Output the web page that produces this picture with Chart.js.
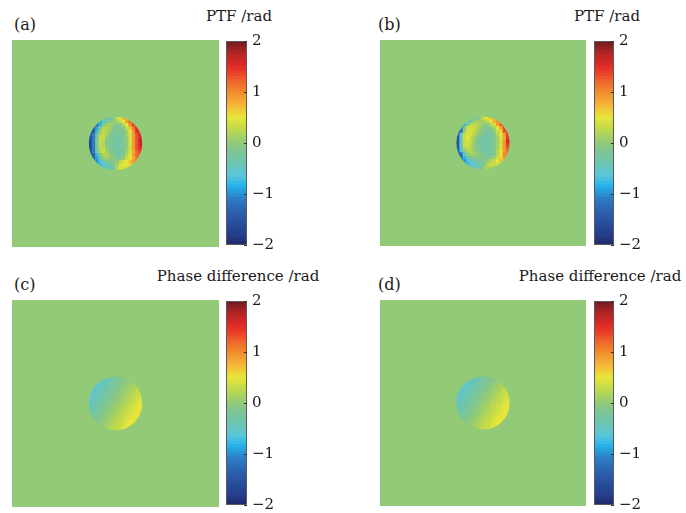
<!DOCTYPE html>
<html><head><meta charset="utf-8">
<script src="https://cdn.jsdelivr.net/npm/chart.js@4.4.1/dist/chart.umd.min.js"></script>
<style>
html,body{margin:0;padding:0;background:#fff}
body{width:686px;height:513px;position:relative;overflow:hidden;font-family:'DejaVu Serif',serif;color:#1a1a1a}
canvas{position:absolute;display:block}
.t{position:absolute;font-size:15px;line-height:15px;white-space:nowrap;transform:translateX(-50%)}
.p{position:absolute;font-size:16px;line-height:16px;white-space:nowrap}
</style></head><body>
<script>
// ---------- data ----------
const FIELD_SIZE = 62;      // grid cells across each square field
const DISC_ORIGIN = 23;     // first grid cell of the 16x16 disc window
const DISC_RADIUS = 8;      // aperture radius, grid cells (centred in the window)
const FIELD_BASE = 0;       // value of the field outside the aperture (rad)
const colorbarRange = [-2, 2];
const colorbarTicks = [-2, -1, 0, 1, 2];
const panelLabels = ['(a)', '(b)', '(c)', '(d)'];
const colorbarTitles = ['PTF /rad', 'PTF /rad', 'Phase difference /rad', 'Phase difference /rad'];

const ptfA = [
 [-0.5,-0.5,-0.5,-0.5,-0.5,-0.5,-0.4,-0.2,0.3,0.5,0.8,0.8,0.8,0.8,0.8,0.8],
 [-0.9,-0.9,-0.9,-0.9,-0.6,-0.3,-0.1,0,0.1,0.3,0.5,0.9,1.2,1.2,1.2,1.2],
 [-1.2,-1.2,-1.2,-0.8,-0.2,0.1,0.1,0,-0.1,-0.1,0.2,0.5,1.0,1.4,1.4,1.4],
 [-1.4,-1.4,-0.9,-0.1,0.2,0.2,0.1,-0.1,-0.2,-0.2,-0.1,0.3,0.7,1.1,1.5,1.5],
 [-1.5,-1.5,-0.8,0.1,0.3,0.2,0,-0.2,-0.2,-0.2,-0.2,0.1,0.5,1.0,1.5,1.5],
 [-1.6,-1.1,-0.4,0.2,0.3,0.1,-0.1,-0.2,-0.3,-0.2,-0.2,0.1,0.4,0.9,1.3,1.6],
 [-1.6,-1.1,-0.3,0.3,0.3,0,-0.2,-0.2,-0.3,-0.3,-0.2,0,0.4,0.9,1.3,1.6],
 [-1.7,-1.1,-0.3,0.3,0.2,-0.1,-0.2,-0.3,-0.3,-0.3,-0.2,0,0.4,0.9,1.3,1.7],
 [-1.7,-1.1,-0.3,0.3,0.2,-0.1,-0.2,-0.3,-0.3,-0.3,-0.2,0,0.4,0.9,1.3,1.6],
 [-1.6,-1.1,-0.3,0.2,0.3,0,-0.2,-0.2,-0.3,-0.3,-0.2,0,0.4,0.9,1.3,1.5],
 [-1.5,-1.1,-0.4,0.2,0.3,0.1,-0.1,-0.2,-0.3,-0.3,-0.2,0.1,0.4,0.8,1.2,1.4],
 [-1.4,-1.4,-0.8,-0.1,0.2,0.2,0,-0.1,-0.3,-0.3,-0.2,0.2,0.5,0.9,1.2,1.2],
 [-1.3,-1.3,-0.9,-0.3,0,0.1,0,-0.1,-0.2,-0.2,0,0.3,0.5,0.8,1.1,1.1],
 [-1.0,-1.0,-1.0,-0.7,-0.4,-0.2,-0.1,-0.1,0,0.2,0.4,0.5,0.7,0.9,0.9,0.9],
 [-0.8,-0.8,-0.8,-0.8,-0.6,-0.4,-0.3,-0.2,0.1,0.4,0.5,0.5,0.6,0.6,0.6,0.6],
 [-0.5,-0.5,-0.5,-0.5,-0.5,-0.5,-0.4,-0.3,0.2,0.4,0.4,0.4,0.4,0.4,0.4,0.4]
];
const ptfB = [
 [-0.4,-0.4,-0.4,-0.4,-0.4,-0.4,-0.2,0.1,0.4,0.5,0.7,0.7,0.7,0.7,0.7,0.7],
 [-0.6,-0.6,-0.6,-0.6,-0.3,0,0.1,0.1,0.2,0.3,0.5,0.8,1.0,1.0,1.0,1.0],
 [-0.8,-0.8,-0.8,-0.2,0.2,0.3,0.2,0.1,0,0,0.2,0.4,0.9,1.2,1.2,1.2],
 [-1.0,-1.0,-0.2,0.3,0.4,0.3,0.2,0,-0.1,-0.2,-0.1,0.2,0.5,0.9,1.3,1.3],
 [-1.2,-1.2,0,0.4,0.4,0.3,0.1,0,-0.2,-0.2,-0.2,0,0.3,0.6,1.3,1.3],
 [-1.4,-0.6,0.3,0.4,0.4,0.2,0,-0.1,-0.2,-0.3,-0.3,-0.1,0.2,0.5,0.9,1.4],
 [-1.5,-0.5,0.3,0.5,0.3,0.1,-0.1,-0.2,-0.3,-0.3,-0.3,-0.1,0.1,0.4,0.8,1.4],
 [-1.5,-0.5,0.3,0.4,0.3,0,-0.2,-0.3,-0.3,-0.3,-0.3,-0.1,0.1,0.4,0.9,1.5],
 [-1.5,-0.5,0.3,0.4,0.2,0,-0.2,-0.3,-0.3,-0.3,-0.3,-0.1,0.1,0.4,0.9,1.4],
 [-1.5,-0.6,0.2,0.3,0.2,0,-0.1,-0.3,-0.3,-0.3,-0.3,-0.1,0.1,0.4,0.9,1.3],
 [-1.4,-0.7,0,0.2,0.2,0,-0.1,-0.2,-0.3,-0.3,-0.3,-0.1,0.2,0.5,0.9,1.2],
 [-1.3,-1.3,-0.6,0,0.1,0.1,0,-0.1,-0.2,-0.3,-0.3,-0.1,0.2,0.5,1.0,1.0],
 [-1.2,-1.2,-0.8,-0.4,-0.2,-0.1,-0.1,-0.1,-0.2,-0.2,-0.1,0.1,0.3,0.6,0.9,0.9],
 [-1.0,-1.0,-1.0,-0.7,-0.5,-0.4,-0.3,-0.2,-0.1,0,0.2,0.3,0.5,0.7,0.7,0.7],
 [-0.8,-0.8,-0.8,-0.8,-0.6,-0.5,-0.4,-0.3,-0.1,0.2,0.3,0.3,0.4,0.4,0.4,0.4],
 [-0.5,-0.5,-0.5,-0.5,-0.5,-0.5,-0.4,-0.3,0.1,0.2,0.2,0.2,0.2,0.2,0.2,0.2]
];
const phaseDiffC = [
 [-0.5,-0.5,-0.5,-0.5,-0.5,-0.45,-0.35,-0.3,-0.25,-0.2,-0.1,-0.05,-0.05,-0.05,-0.05,-0.05],
 [-0.5,-0.5,-0.5,-0.5,-0.45,-0.4,-0.35,-0.25,-0.2,-0.15,-0.1,-0.02,0.05,0.1,0.1,0.1],
 [-0.55,-0.55,-0.55,-0.5,-0.45,-0.35,-0.3,-0.25,-0.2,-0.1,-0.05,0.02,0.05,0.15,0.2,0.2],
 [-0.6,-0.6,-0.5,-0.45,-0.4,-0.35,-0.25,-0.2,-0.15,-0.1,-0.02,0.05,0.1,0.15,0.25,0.3],
 [-0.55,-0.55,-0.45,-0.4,-0.35,-0.3,-0.2,-0.15,-0.1,-0.05,0.05,0.1,0.15,0.2,0.3,0.35],
 [-0.55,-0.5,-0.45,-0.35,-0.3,-0.25,-0.2,-0.1,-0.05,0.02,0.05,0.15,0.2,0.25,0.3,0.4],
 [-0.55,-0.45,-0.4,-0.35,-0.3,-0.2,-0.15,-0.1,-0.05,0.05,0.1,0.15,0.2,0.3,0.35,0.4],
 [-0.5,-0.45,-0.35,-0.3,-0.25,-0.2,-0.1,-0.05,0.02,0.05,0.15,0.2,0.25,0.3,0.4,0.45],
 [-0.45,-0.4,-0.3,-0.25,-0.2,-0.15,-0.05,0.02,0.05,0.1,0.2,0.25,0.3,0.35,0.45,0.5],
 [-0.4,-0.35,-0.3,-0.2,-0.15,-0.1,-0.05,0.05,0.1,0.15,0.2,0.3,0.35,0.4,0.45,0.5],
 [-0.4,-0.3,-0.25,-0.2,-0.15,-0.05,0.02,0.05,0.1,0.2,0.25,0.3,0.35,0.45,0.5,0.5],
 [-0.3,-0.3,-0.2,-0.15,-0.1,-0.05,0.05,0.1,0.15,0.2,0.3,0.35,0.4,0.45,0.5,0.55],
 [-0.25,-0.25,-0.15,-0.1,-0.05,0.02,0.1,0.15,0.2,0.25,0.35,0.4,0.45,0.5,0.5,0.55],
 [-0.2,-0.2,-0.15,-0.05,0.02,0.05,0.1,0.2,0.25,0.3,0.35,0.45,0.5,0.5,0.55,0.55],
 [-0.1,-0.1,-0.1,-0.05,0.02,0.1,0.15,0.2,0.25,0.3,0.4,0.45,0.5,0.55,0.55,0.55],
 [0.05,0.05,0.05,0.05,0.05,0.1,0.2,0.25,0.3,0.35,0.45,0.5,0.5,0.5,0.5,0.5]
];
const phaseDiffD = [
 [-0.5,-0.5,-0.5,-0.5,-0.5,-0.45,-0.4,-0.3,-0.25,-0.2,-0.15,-0.05,-0.05,-0.05,-0.05,-0.05],
 [-0.5,-0.5,-0.5,-0.5,-0.45,-0.4,-0.35,-0.3,-0.2,-0.15,-0.1,-0.05,0.05,0.1,0.1,0.1],
 [-0.55,-0.55,-0.55,-0.5,-0.45,-0.4,-0.3,-0.25,-0.2,-0.15,-0.05,0.02,0.05,0.15,0.2,0.2],
 [-0.6,-0.6,-0.55,-0.45,-0.4,-0.35,-0.3,-0.2,-0.15,-0.1,-0.02,0.05,0.1,0.15,0.25,0.3],
 [-0.55,-0.55,-0.5,-0.4,-0.35,-0.3,-0.25,-0.15,-0.1,-0.05,0.02,0.1,0.15,0.2,0.3,0.35],
 [-0.55,-0.5,-0.45,-0.4,-0.3,-0.25,-0.2,-0.1,-0.05,0.02,0.05,0.1,0.2,0.25,0.3,0.4],
 [-0.55,-0.5,-0.4,-0.35,-0.3,-0.2,-0.15,-0.1,-0.05,0.02,0.1,0.15,0.2,0.3,0.35,0.4],
 [-0.5,-0.45,-0.4,-0.3,-0.25,-0.2,-0.1,-0.05,0.02,0.05,0.15,0.2,0.25,0.3,0.4,0.45],
 [-0.45,-0.4,-0.35,-0.25,-0.2,-0.15,-0.05,0.02,0.05,0.1,0.2,0.25,0.3,0.35,0.45,0.5],
 [-0.45,-0.35,-0.3,-0.2,-0.15,-0.1,-0.05,0.05,0.1,0.15,0.2,0.3,0.35,0.4,0.45,0.5],
 [-0.4,-0.35,-0.25,-0.2,-0.15,-0.05,0.02,0.05,0.1,0.2,0.25,0.3,0.35,0.45,0.5,0.5],
 [-0.3,-0.3,-0.2,-0.15,-0.1,-0.05,0.02,0.1,0.15,0.2,0.3,0.35,0.4,0.45,0.5,0.55],
 [-0.25,-0.25,-0.2,-0.1,-0.05,0.02,0.1,0.15,0.2,0.25,0.3,0.4,0.45,0.5,0.5,0.55],
 [-0.2,-0.2,-0.15,-0.1,0.02,0.05,0.1,0.15,0.25,0.3,0.35,0.45,0.5,0.5,0.55,0.55],
 [-0.1,-0.1,-0.1,-0.05,0.02,0.1,0.15,0.2,0.25,0.3,0.4,0.45,0.5,0.55,0.55,0.55],
 [0.05,0.05,0.05,0.05,0.05,0.1,0.15,0.25,0.3,0.35,0.45,0.5,0.5,0.5,0.5,0.5]
];
const panelGrids = [ptfA, ptfB, phaseDiffC, phaseDiffD];

// ---------- styles / layout ----------
const CMAP_STOPS = [
 [-2.0,[0x20,0x28,0x6a]],[-1.8,[0x26,0x3e,0x8e]],[-1.4,[0x2a,0x5c,0xa8]],[-1.1,[0x2d,0x7c,0xc4]],
 [-0.85,[0x22,0xb2,0xea]],[-0.65,[0x5a,0xc6,0xdc]],[-0.4,[0x6c,0xc4,0xb2]],[-0.15,[0x80,0xc6,0x90]],
 [0.0,[0x92,0xca,0x78]],[0.25,[0xbc,0xd8,0x4c]],[0.5,[0xe8,0xe6,0x3a]],[0.75,[0xf4,0xb4,0x36]],
 [1.0,[0xf2,0x8a,0x2c]],[1.25,[0xee,0x5a,0x2a]],[1.5,[0xe4,0x28,0x28]],[1.75,[0xb4,0x24,0x24]],[2.0,[0x6a,0x1c,0x20]]
];
function cmap(v){
  if (v <= CMAP_STOPS[0][0]) return 'rgb('+CMAP_STOPS[0][1].join(',')+')';
  for (let i=1;i<CMAP_STOPS.length;i++){
    const [v1,c1]=CMAP_STOPS[i], [v0,c0]=CMAP_STOPS[i-1];
    if (v <= v1){ const t=(v-v0)/(v1-v0);
      return 'rgb('+[0,1,2].map(k=>Math.round(c0[k]+(c1[k]-c0[k])*t)).join(',')+')'; }
  }
  return 'rgb('+CMAP_STOPS[CMAP_STOPS.length-1][1].join(',')+')';
}
const LAYOUT = [
  {heat:[12,40,207,207],  bar:[226,27,21], title:[239,9],   label:[14,17]},
  {heat:[380,40,206,206], bar:[594,27,20], title:[607,9],   label:[378,17]},
  {heat:[12,300,207,207], bar:[226,287,21], title:[238,269], label:[14,277]},
  {heat:[380,300,206,206],bar:[594,287,20], title:[600,269], label:[378,277]}
];
const BAR_H = 208, BAR_PAD = 12, LABEL_W = 40;
const FONT = {family:"'DejaVu Serif', serif", size:15};

function mkCanvas(x,y,w,h){
  const c=document.createElement('canvas');
  c.width=w;c.height=h;c.style.left=x+'px';c.style.top=y+'px';c.style.width=w+'px';c.style.height=h+'px';
  document.body.appendChild(c);return c;
}
function mkText(cls,x,y,txt){const d=document.createElement('div');d.className=cls;d.style.left=x+'px';d.style.top=y+'px';d.textContent=txt;document.body.appendChild(d);}

// field background + circular aperture clip, both placed through the chart's scales
const fieldAperture = {id:'fieldAperture',
  beforeDatasetsDraw(chart){
    const a=chart.chartArea,ctx=chart.ctx,sx=chart.scales.x,sy=chart.scales.y;
    ctx.fillStyle=cmap(FIELD_BASE);ctx.fillRect(a.left,a.top,a.right-a.left,a.bottom-a.top);
    const c=DISC_ORIGIN+DISC_RADIUS;
    ctx.save();ctx.beginPath();
    ctx.arc(sx.getPixelForValue(c),sy.getPixelForValue(c),Math.abs(sx.getPixelForValue(DISC_RADIUS)-sx.getPixelForValue(0)),0,Math.PI*2);
    ctx.clip();
  },
  afterDatasetsDraw(chart){chart.ctx.restore();}
};
const barFrame = {id:'barFrame', afterDatasetsDraw(chart){
  const a=chart.chartArea,ctx=chart.ctx,y=chart.scales.y;ctx.save();
  ctx.strokeStyle='#5a5a5a';ctx.lineWidth=1;
  ctx.strokeRect(a.left+0.5,a.top+0.5,a.right-a.left-1,a.bottom-a.top-1);
  ctx.strokeStyle='#333';
  y.ticks.forEach(t=>{const py=Math.round(y.getPixelForValue(t.value))+0.5;ctx.beginPath();ctx.moveTo(a.right-3,py);ctx.lineTo(a.right,py);ctx.stroke();});
  ctx.restore();}};

function heatmap(canvas, grid){
  const pts=[];
  grid.forEach((row,r)=>row.forEach((v,c)=>pts.push({x:DISC_ORIGIN+c+0.5,y:DISC_ORIGIN+r+0.5,v})));
  const rad = ctx => { const s=ctx.chart.scales.x; return (Math.abs(s.getPixelForValue(1)-s.getPixelForValue(0))+0.7)/Math.SQRT2; };
  new Chart(canvas,{type:'scatter',
    data:{datasets:[{data:pts,pointStyle:'rect',borderWidth:0,pointBorderWidth:0,
      backgroundColor:ctx=>cmap(ctx.raw ? ctx.raw.v : 0),pointRadius:rad,pointHoverRadius:rad}]},
    options:{responsive:false,animation:false,events:[],layout:{padding:0},
      plugins:{legend:{display:false},tooltip:{enabled:false}},
      scales:{x:{type:'linear',min:0,max:FIELD_SIZE,display:false},
              y:{type:'linear',min:0,max:FIELD_SIZE,reverse:true,display:false}}},
    plugins:[fieldAperture]});
}
function colorbar(canvas){
  const n=64,[lo,hi]=colorbarRange,step=(hi-lo)/n,datasets=[];
  for(let i=0;i<n;i++){const a=lo+i*step;datasets.push({data:[[a,a+step]],backgroundColor:cmap(a+step/2),borderWidth:0,grouped:false,barPercentage:1,categoryPercentage:1});}
  new Chart(canvas,{type:'bar',data:{labels:[''],datasets},
    options:{responsive:false,animation:false,events:[],layout:{padding:{top:BAR_PAD,bottom:BAR_PAD,left:0,right:0}},
      plugins:{legend:{display:false},tooltip:{enabled:false}},
      scales:{x:{display:false},
        y:{position:'right',min:lo,max:hi,
           afterBuildTicks:s=>{s.ticks=colorbarTicks.map(v=>({value:v}));},
           afterFit:s=>{s.width=LABEL_W;},
           grid:{display:false,drawTicks:false,tickLength:0},border:{display:false},
           ticks:{font:FONT,color:'#1a1a1a',padding:5,callback:v=>v<0?'\u2212'+Math.abs(v):String(v)}}}},
    plugins:[barFrame]});
}

LAYOUT.forEach((L,i)=>{
  const [hx,hy,hw,hh]=L.heat;
  heatmap(mkCanvas(hx,hy,hw,hh),panelGrids[i]);
  const [bx,by,bw]=L.bar;
  colorbar(mkCanvas(bx,by,bw+LABEL_W,BAR_H+2*BAR_PAD));
  mkText('t',L.title[0],L.title[1],colorbarTitles[i]);
  mkText('p',L.label[0],L.label[1],panelLabels[i]);
});
</script>
</body></html>
